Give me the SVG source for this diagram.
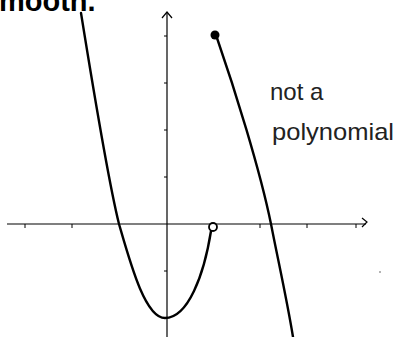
<svg xmlns="http://www.w3.org/2000/svg" width="396" height="337" viewBox="0 0 396 337">
<style>
.axis{stroke:#000;stroke-width:1.2;fill:none}
.tick{stroke:#000;stroke-width:1}
.curve{stroke:#000;stroke-width:2.4;fill:none;stroke-linecap:round}
.hand{font-family:"Liberation Sans",Arial,sans-serif;font-size:24px;fill:#222}
.title{font-family:"Liberation Sans",Arial,sans-serif;font-weight:bold;font-size:29px;fill:#000}
</style>
<rect width="396" height="337" fill="#fff"/>
<text class="title" x="-1" y="11">mooth.</text>
<g id="axes">
<line class="axis" x1="7" y1="224" x2="366" y2="224"/>
<polyline class="axis" points="362,218 367,222 362,227"/>
<line class="axis" x1="167" y1="13" x2="167" y2="337"/>
<polyline class="axis" points="162,18 167,12 172,18"/>
<g class="tick">
<line x1="164" y1="36" x2="167" y2="36"/>
<line x1="164" y1="83" x2="167" y2="83"/>
<line x1="164" y1="130" x2="167" y2="130"/>
<line x1="164" y1="177" x2="167" y2="177"/>
<line x1="164" y1="271" x2="167" y2="271"/>
<line x1="25" y1="224" x2="25" y2="228"/>
<line x1="72" y1="224" x2="72" y2="228"/>
<line x1="260" y1="224" x2="260" y2="228"/>
<line x1="307" y1="224" x2="307" y2="228"/>
<line x1="356" y1="224" x2="356" y2="228"/>
</g>
</g>
<g id="graph">
<path class="curve" d="M81,13 C95,100 108,180 119,224 C130,262 145,318 165,318 C188,318 204,275 211,231"/>
<path class="curve" d="M216,35 C235,90 260,170 271,224 C278,260 287,300 293,337"/>
<circle cx="213" cy="227" r="4" fill="#fff" stroke="#000" stroke-width="1.8"/>
<circle cx="215" cy="35" r="4.5" fill="#000"/>
<circle cx="380" cy="272" r="0.8" fill="#555"/>
</g>
<g id="note">
<text class="hand" x="270" y="100" font-size="26">not a</text>
<text class="hand" x="272" y="140" textLength="122" lengthAdjust="spacingAndGlyphs">polynomial</text>
</g>
</svg>
